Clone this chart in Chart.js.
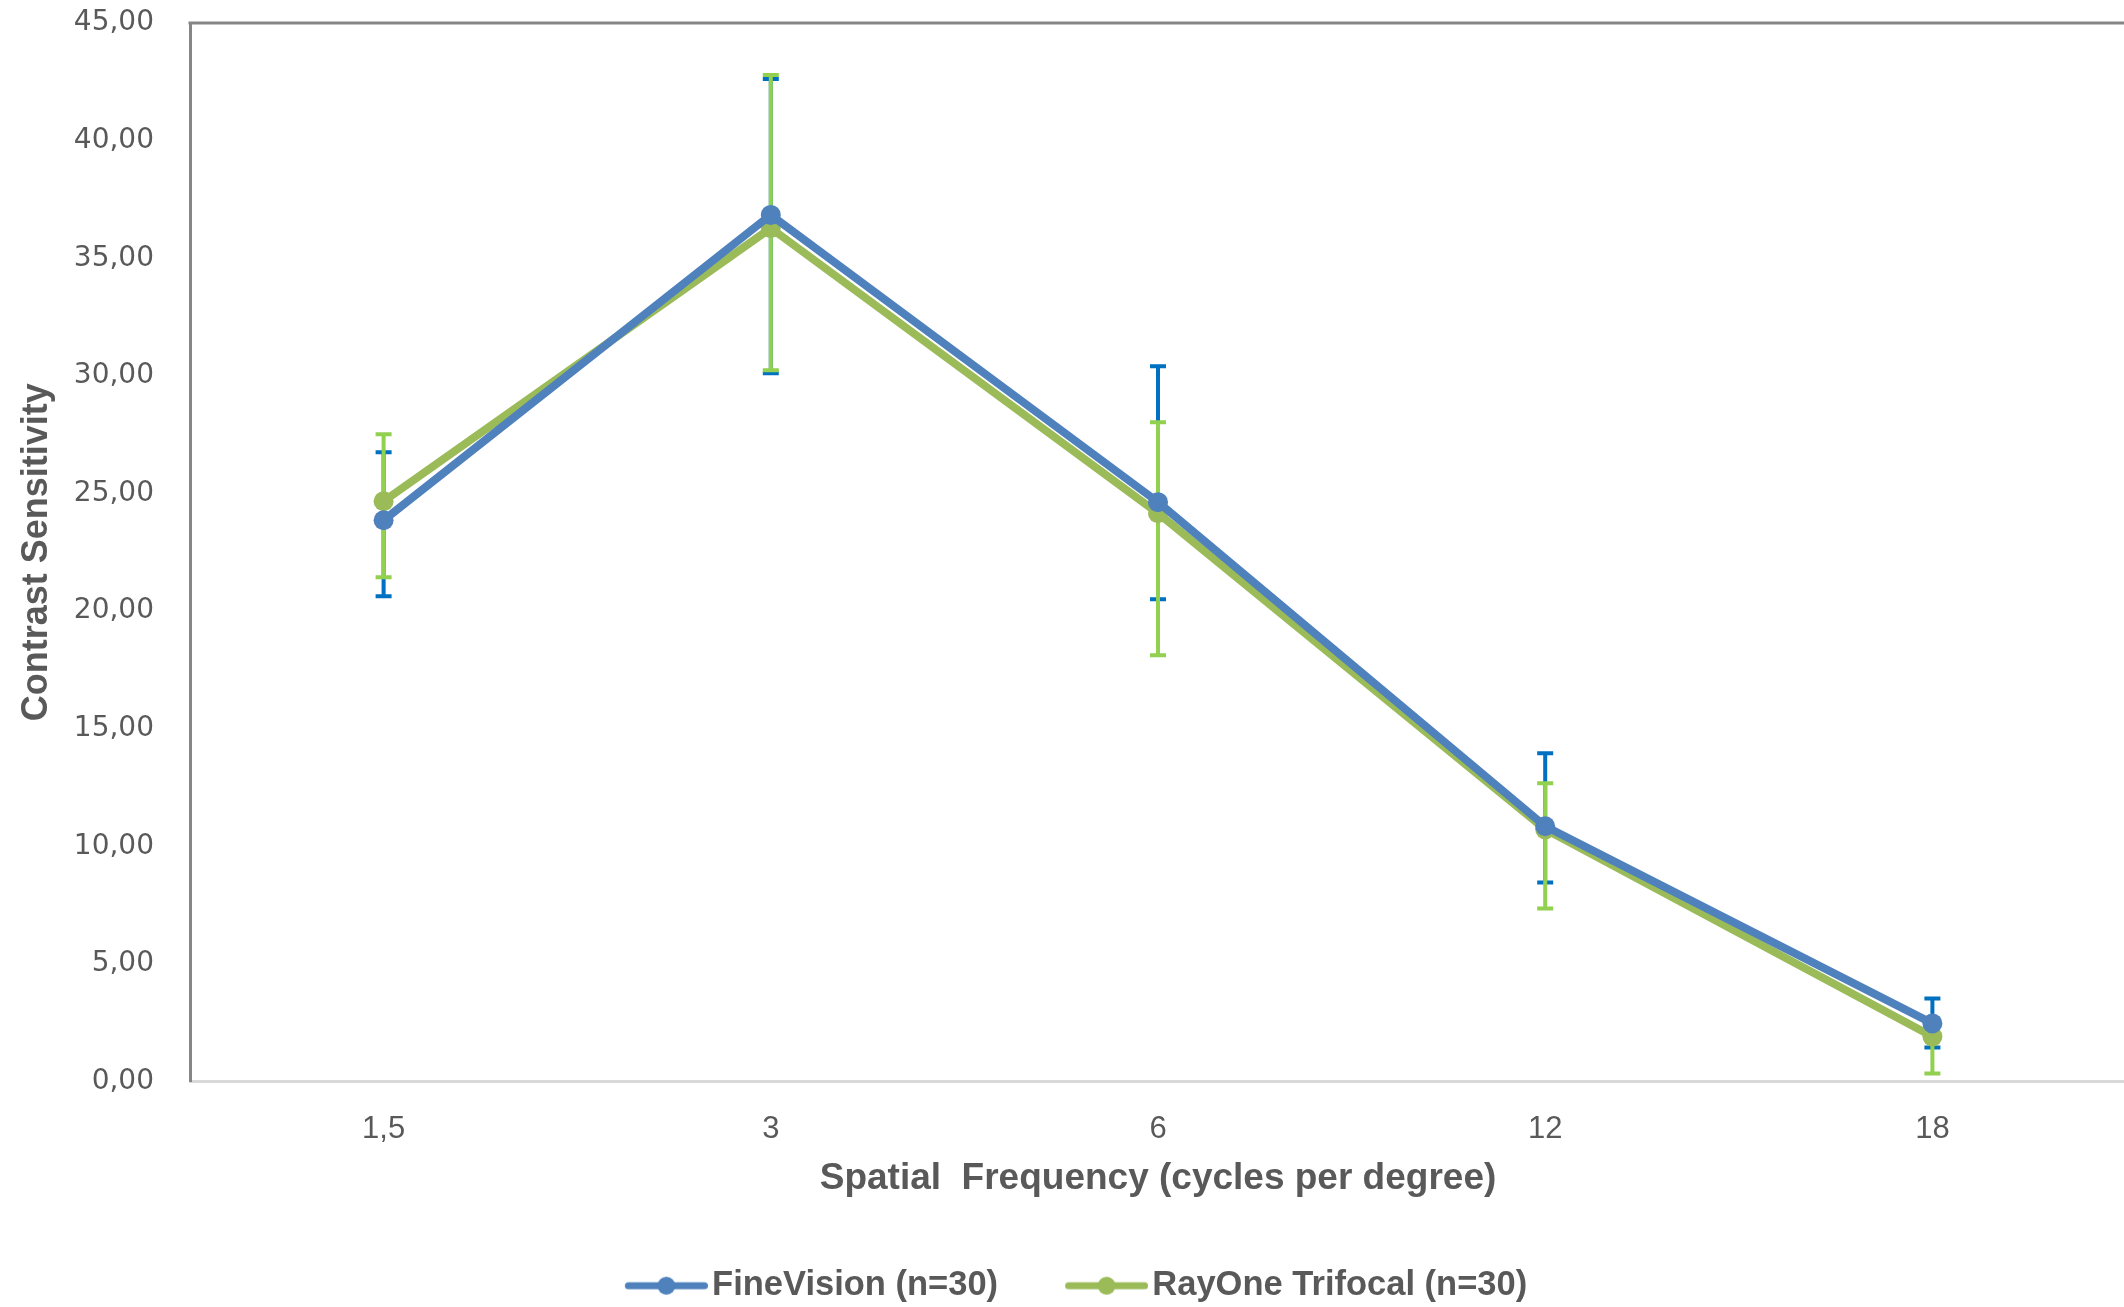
<!DOCTYPE html>
<html><head><meta charset="utf-8">
<script src="https://cdn.jsdelivr.net/npm/chart.js@4/dist/chart.umd.min.js"></script>
<style>html,body{margin:0;padding:0;overflow:hidden;background:#fff;width:2124px;height:1307px}canvas{display:block}</style>
</head><body><canvas id="c" width="2136" height="1313"></canvas>
<script>
// ---- data ----
const categories = ['1,5', '3', '6', '12', '18'];
const fineVision = [23.86, 36.84, 24.63, 10.85, 2.47];
const fineVisionHigh = [26.75, 42.62, 30.41, 13.95, 3.53];
const fineVisionLow = [20.63, 30.11, 20.50, 8.46, 1.45];
const rayOne = [24.67, 36.28, 24.16, 10.72, 1.91];
const rayOneHigh = [27.52, 42.79, 28.03, 12.68, 2.55];
const rayOneLow = [21.44, 30.24, 18.12, 7.36, 0.34];
const seriesNames = ['FineVision (n=30)', 'RayOne Trifocal (n=30)'];
const xTitle = 'Spatial  Frequency (cycles per degree)';
const yTitle = 'Contrast Sensitivity';
const yMin = 0, yMax = 45, yStep = 5;

// ---- styles ----
const SANS = "'Liberation Sans', Arial, sans-serif";
const TXT = '#595959';
const lineColors = ['#4F81BD', '#9BBB59'];
const errColors = ['#0070C0', '#92D050'];

function makeIcon(color) {
  const c = document.createElement('canvas');
  c.width = 112; c.height = 24;
  const g = c.getContext('2d');
  g.strokeStyle = color; g.lineWidth = 7; g.lineCap = 'round';
  g.beginPath(); g.moveTo(29 + 3.5, 12); g.lineTo(112 - 3.5, 12); g.stroke();
  g.fillStyle = color; g.beginPath(); g.arc(70.5, 12, 9, 0, Math.PI * 2); g.fill();
  return c;
}

const errorBars = {
  id: 'errorBars',
  beforeDatasetsDraw(chart) {
    const {ctx, scales: {x, y}} = chart;
    chart.data.datasets.forEach((ds) => {
      ctx.save();
      ctx.strokeStyle = ds.errColor; ctx.lineWidth = 4;
      ds.errHigh.forEach((h, j) => {
        const px = x.getPixelForValue(j);
        const yh = y.getPixelForValue(h), yl = y.getPixelForValue(ds.errLow[j]);
        ctx.beginPath();
        ctx.moveTo(px, yh); ctx.lineTo(px, yl);
        ctx.moveTo(px - 8, yh); ctx.lineTo(px + 8, yh);
        ctx.moveTo(px - 8, yl); ctx.lineTo(px + 8, yl);
        ctx.stroke();
      });
      ctx.restore();
    });
  }
};
const topBorder = {
  id: 'topBorder',
  beforeDatasetsDraw(chart) {
    const {ctx, chartArea: a} = chart;
    ctx.save(); ctx.strokeStyle = '#868686'; ctx.lineWidth = 3;
    ctx.beginPath(); ctx.moveTo(a.left - 1.5, a.top); ctx.lineTo(a.right, a.top); ctx.stroke();
    ctx.restore();
  }
};

const datasets = [
  {label: seriesNames[0], data: fineVision, errHigh: fineVisionHigh, errLow: fineVisionLow},
  {label: seriesNames[1], data: rayOne, errHigh: rayOneHigh, errLow: rayOneLow}
].map((d, i) => Object.assign(d, {
  borderColor: lineColors[i], backgroundColor: lineColors[i], borderWidth: 8,
  pointRadius: 10, pointBorderWidth: 0, pointBackgroundColor: lineColors[i], pointBorderColor: lineColors[i],
  borderJoinStyle: 'round', borderCapStyle: 'round', tension: 0, clip: false, errColor: errColors[i]
}));

new Chart(document.getElementById('c'), {
  type: 'line',
  data: {labels: categories, datasets},
  plugins: [errorBars, topBorder],
  options: {
    responsive: false, animation: false, devicePixelRatio: 1,
    layout: {padding: {left: 0, right: 0, top: 23, bottom: 0}},
    plugins: {
      tooltip: {enabled: false},
      legend: {
        position: 'bottom',
        labels: {
          usePointStyle: true, pointStyleWidth: 86, padding: 51, color: TXT,
          font: {family: SANS, size: 34.5, weight: 'bold'},
          generateLabels: (chart) => chart.data.datasets.map((ds, i) => ({
            text: ds.label, datasetIndex: i, hidden: false, fontColor: TXT,
            pointStyle: makeIcon(lineColors[i]), lineWidth: 0,
            strokeStyle: 'rgba(0,0,0,0)', fillStyle: 'rgba(0,0,0,0)'
          }))
        }
      }
    },
    scales: {
      x: {
        type: 'category', offset: true,
        grid: {display: false},
        border: {display: true, color: '#D9D9D9', width: 3},
        ticks: {color: TXT, font: {family: SANS, size: 31}, padding: 21, maxRotation: 0, autoSkip: false},
        title: {display: true, text: xTitle, color: TXT, font: {family: SANS, size: 37, weight: 'bold'}, padding: {top: 0, bottom: 17}},
        afterFit: s => { s.height = 136; }
      },
      y: {
        min: yMin, max: yMax,
        grid: {display: false},
        border: {display: true, color: '#868686', width: 3},
        ticks: {stepSize: yStep, color: TXT, font: {family: "'DejaVu Sans', sans-serif", size: 28}, padding: 28,
          callback: v => v.toFixed(2).replace('.', ',')},
        title: {display: true, text: yTitle, color: TXT, font: {family: SANS, size: 36, weight: 'bold'}, padding: {top: 15, bottom: 0}},
        afterFit: s => { s.width = 190; s.paddingTop = 0; s.paddingBottom = 0; }
      }
    }
  }
});
</script></body></html>
